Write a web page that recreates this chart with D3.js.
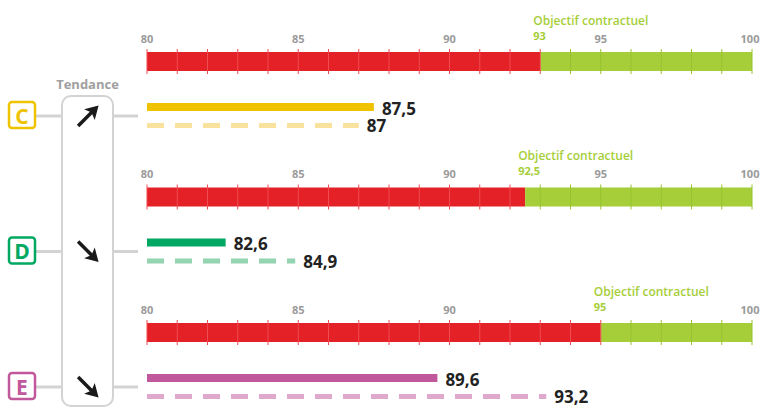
<!DOCTYPE html>
<html>
<head>
<meta charset="utf-8">
<script src="https://cdn.jsdelivr.net/npm/d3@7"></script>
<style>
  body { margin: 0; background: #fff; }
  text { font-family: "Open Sans", sans-serif; }
</style>
</head>
<body>
<svg id="chart" width="760" height="407"></svg>
<script>
// values
var categories = ['C', 'D', 'E'];
var currentValues = [87.5, 82.6, 89.6];
var previousValues = [87, 84.9, 93.2];
var objectives = [93, 92.5, 95];
var trends = ['up', 'down', 'down'];
var tickLabels = [80, 85, 90, 95, 100];
var axisDomain = [80, 100];

var colors = {
  C: { main: '#f0c300', light: '#f8e29d' },
  D: { main: '#00a862', light: '#93d4b1' },
  E: { main: '#c0589b', light: '#dfa9cb' }
};
var red = '#e42127', green = '#a6ce39';
var W = 760;

var svg = d3.select('#chart');

var x = d3.scaleLinear().domain(axisDomain).range([147, 752]);
// top of each threshold bar
var panelY = d3.scaleLinear().domain([0, categories.length - 1]).range([52, 323]);
var fmt = function(v) { return String(v).replace('.', ','); };

// trend column box
svg.append('rect')
  .attr('x', 62).attr('y', 96)
  .attr('width', 51).attr('height', 310)
  .attr('rx', 9).attr('ry', 9)
  .attr('fill', 'none')
  .attr('stroke', '#d3d3d3')
  .attr('stroke-width', 2);

svg.append('text')
  .attr('x', 87.5).attr('y', 84)
  .attr('text-anchor', 'middle')
  .attr('dominant-baseline', 'central')
  .attr('fill', '#a0a0a0')
  .attr('font-size', 13)
  .attr('font-weight', 700)
  .text('Tendance');

var panels = svg.selectAll('g.panel')
  .data(categories)
  .enter().append('g')
  .attr('class', 'panel')
  .attr('transform', function(d, i) { return 'translate(0,' + panelY(i) + ')'; });

panels.each(function(cat, i) {
  var g = d3.select(this);
  var obj = objectives[i];
  var c = colors[cat];

  // threshold bar: red below objective, green above
  g.append('rect')
    .attr('x', x(axisDomain[0])).attr('y', 0)
    .attr('width', x(obj) - x(axisDomain[0])).attr('height', 19)
    .attr('fill', red);
  g.append('rect')
    .attr('x', x(obj)).attr('y', 0)
    .attr('width', x(axisDomain[1]) - x(obj)).attr('height', 19)
    .attr('fill', green);

  // unit ticks
  g.selectAll('line.tick')
    .data(d3.range(axisDomain[0], axisDomain[1] + 1))
    .enter().append('line')
    .attr('class', 'tick')
    .attr('x1', function(d) { return x(d); })
    .attr('x2', function(d) { return x(d); })
    .attr('y1', -3).attr('y2', 22)
    .attr('stroke', function(d) { return d <= obj ? '#ef4b50' : '#96c230'; })
    .attr('stroke-width', 1);

  // grey axis labels (hidden under objective label)
  g.selectAll('text.axis')
    .data(tickLabels.filter(function(d) { return Math.abs(d - obj) >= 1; }))
    .enter().append('text')
    .attr('class', 'axis')
    .attr('x', function(d) { return Math.min(x(d), W - 10); })
    .attr('y', -14)
    .attr('text-anchor', 'middle')
    .attr('dominant-baseline', 'central')
    .attr('fill', '#9a9a9a')
    .attr('font-size', 11)
    .attr('font-weight', 700)
    .text(function(d) { return d; });

  // objective label
  g.append('text')
    .attr('x', x(obj) - 7).attr('y', -32)
    .attr('dominant-baseline', 'central')
    .attr('fill', green)
    .attr('font-size', 12)
    .attr('font-weight', 600)
    .text('Objectif contractuel');
  g.append('text')
    .attr('x', x(obj) - 7).attr('y', -17)
    .attr('dominant-baseline', 'central')
    .attr('fill', green)
    .attr('font-size', 11)
    .attr('font-weight', 700)
    .text(fmt(obj));

  // current value
  g.append('rect')
    .attr('x', x(axisDomain[0])).attr('y', 51)
    .attr('width', x(currentValues[i]) - x(axisDomain[0])).attr('height', 8)
    .attr('fill', c.main);
  g.append('text')
    .attr('x', x(currentValues[i]) + 8).attr('y', 56)
    .attr('dominant-baseline', 'central')
    .attr('fill', '#222')
    .attr('font-size', 17)
    .attr('font-weight', 700)
    .text(fmt(currentValues[i]));

  // previous value (dashed)
  g.append('line')
    .attr('x1', x(axisDomain[0])).attr('x2', x(previousValues[i]))
    .attr('y1', 73.5).attr('y2', 73.5)
    .attr('stroke', c.light)
    .attr('stroke-width', 5)
    .attr('stroke-dasharray', '17,11');
  g.append('text')
    .attr('x', x(previousValues[i]) + 8).attr('y', 73.5)
    .attr('dominant-baseline', 'central')
    .attr('fill', '#222')
    .attr('font-size', 17)
    .attr('font-weight', 700)
    .text(fmt(previousValues[i]));

  // connectors
  g.append('line')
    .attr('x1', 36).attr('x2', 62).attr('y1', 64).attr('y2', 64)
    .attr('stroke', '#d3d3d3').attr('stroke-width', 3);
  g.append('line')
    .attr('x1', 113).attr('x2', 138).attr('y1', 64).attr('y2', 64)
    .attr('stroke', '#d3d3d3').attr('stroke-width', 3);

  // category badge
  g.append('rect')
    .attr('x', 9).attr('y', 50)
    .attr('width', 26).attr('height', 26)
    .attr('rx', 3).attr('ry', 3)
    .attr('fill', '#fff')
    .attr('stroke', c.main)
    .attr('stroke-width', 2.5);
  g.append('text')
    .attr('x', 22).attr('y', 63.5)
    .attr('text-anchor', 'middle')
    .attr('dominant-baseline', 'central')
    .attr('fill', c.main)
    .attr('font-size', 21)
    .attr('font-weight', 700)
    .text(cat);

  // trend arrow
  var arrow = g.append('g')
    .attr('transform', 'translate(88,64) rotate(' + (trends[i] === 'up' ? -45 : 45) + ')');
  arrow.append('line')
    .attr('x1', -14).attr('x2', 6).attr('y1', 0).attr('y2', 0)
    .attr('stroke', '#1a1a1a').attr('stroke-width', 3.5);
  arrow.append('path')
    .attr('d', 'M15,0 L2,-7.5 L5,0 L2,7.5 Z')
    .attr('fill', '#1a1a1a');
});
</script>
</body>
</html>
